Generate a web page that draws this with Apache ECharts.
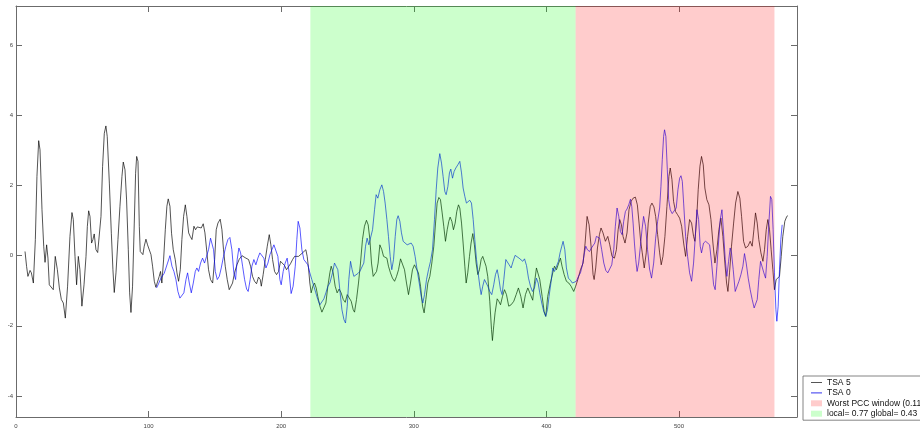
<!DOCTYPE html>
<html>
<head>
<meta charset="utf-8">
<title>TSA 5 vs TSA 0</title>
<script src="https://cdn.jsdelivr.net/npm/echarts@6/dist/echarts.min.js"></script>
<style>
  html, body { margin: 0; padding: 0; background: #fff; }
  #chart { width: 920px; height: 430px; }
</style>
</head>
<body>
<div id="chart"></div>
<script>
// TSA 5 trace (sample index, value)
const tsa5X = [6.8,8.0,9.0,10.6,11.6,13.1,14.6,15.8,17.1,18.1,19.6,20.9,21.9,23.1,24.1,25.1,26.6,28.1,29.6,31.2,32.7,34.2,35.7,37.2,38.9,40.7,42.2,43.2,44.5,45.7,47.0,48.2,49.7,51.3,52.8,53.8,54.8,55.8,57.0,58.0,59.0,60.3,61.6,62.8,64.1,65.3,66.6,67.8,68.8,70.4,71.9,73.1,74.1,75.4,76.9,78.4,79.9,80.9,82.2,83.4,84.7,85.7,86.7,87.9,89.2,90.2,91.0,92.0,93.0,93.7,94.7,95.7,96.7,98.0,99.2,100.5,101.8,103.0,104.3,105.5,106.8,108.0,109.0,110.0,111.3,112.6,113.8,114.8,116.1,117.3,118.6,
  120.1,121.4,122.6,123.9,125.1,126.4,127.7,128.9,130.2,131.4,132.7,134.2,135.4,136.7,138.2,139.7,141.2,142.5,144.0,145.2,146.7,148.3,149.8,151.0,152.3,154.0,155.3,156.5,157.8,159.3,160.8,161.8,163.3,164.8,166.6,168.4,170.4,171.9,173.4,175.4,176.9,178.4,179.9,181.4,182.9,184.2,185.0,186.4,188.0,189.5,191.0,192.2,193.5,195.0,196.5,198.0,199.5,201.0,202.5,204.0,205.5,207.0,208.6,210.1,211.6,213.1,214.6,216.1,217.6,218.6,219.6,220.6,221.6,222.6,223.9,225.1,226.4,227.6,229.2,230.7,232.2,233.7,235.2,236.7,237.7,
  239.2,240.7,242.2,243.7,245.2,246.8,248.3,249.8,251.3,252.8,254.3,255.3,256.8,258.3,259.8,261.3,262.8,264.3,265.6,266.9,268.1,269.4,270.6,271.9,273.1,274.4,275.9,277.2,278.4,279.7,280.9,282.4,283.9,285.5,287.0,288.5,290.0,291.5,293.0,294.5,296.0,297.5,299.0,300.5,302.0,303.5,305.1,306.6,307.8,309.1,310.6,312.1,313.6,315.1,316.4,317.6,318.9,320.1,321.4,322.6,323.9,325.2,326.4,327.4,328.7,329.9,331.2,332.4,333.7,334.7,336.0,337.2,338.5,339.5,340.7,342.0,343.2,344.5,345.7,347.0,348.3,349.5,350.8,352.0,353.3,354.5,355.8,
  357.3,358.6,359.3,360.3,361.3,362.9,364.1,365.4,366.9,368.4,369.9,371.6,373.4,375.4,377.2,378.9,380.7,382.4,384.2,386.0,388.0,389.7,391.0,392.5,393.8,395.0,396.8,398.3,399.5,401.0,403.0,404.8,406.1,407.6,409.3,410.6,411.8,413.4,415.1,416.9,418.6,420.6,422.1,423.7,425.7,427.7,429.2,430.7,432.2,433.7,435.2,436.0,437.2,438.5,440.0,441.2,442.7,444.5,446.3,447.8,449.5,451.3,452.8,454.1,455.3,456.6,457.8,459.3,460.8,462.3,463.9,465.4,467.1,468.6,469.9,471.1,
  472.3,473.8,475.3,476.8,478.3,479.6,481.1,482.4,483.9,485.4,486.6,487.9,489.4,490.9,492.4,493.4,494.7,495.9,497.4,498.9,500.5,502.0,503.5,505.0,506.5,508.0,509.5,511.0,512.0,513.3,514.5,515.8,517.0,518.3,519.5,521.0,522.6,524.1,525.6,527.1,528.6,530.1,531.6,533.1,534.6,535.9,536.9,538.1,539.6,541.2,542.7,544.4,545.9,547.2,548.7,550.2,552.0,553.7,555.2,556.5,557.7,559.0,560.2,561.8,563.3,564.5,565.8,567.0,568.3,569.5,570.8,572.0,573.3,574.6,575.8,577.1,578.3,579.8,581.3,582.1];
const tsa5Y = [0.12,-0.31,-0.59,-0.42,-0.49,-0.78,0.46,2.26,3.28,3.02,1.31,0.27,-0.19,0.31,-0.07,-0.83,-0.78,-0.97,-0.02,-0.4,-0.92,-1.25,-1.35,-1.78,-0.87,0.55,1.23,1.03,-0.02,-0.83,-0.02,-0.4,-1.44,-0.83,-0.02,0.83,1.28,1.12,0.36,0.46,0.62,0.17,0.09,0.12,1.12,2.54,3.49,3.70,3.40,2.07,0.64,-0.4,-1.05,-0.49,0.46,1.41,2.26,2.67,2.45,1.59,0.17,-1.06,-1.62,-0.87,0.93,2.35,2.83,2.69,0.83,0.12,0.09,0.03,0.27,0.47,0.31,0.27,0.03,-0.3,-0.73,-0.9,-0.87,-0.59,-0.45,-0.78,-0.12,0.74,1.41,1.62,1.41,0.64,0.17,
  -0.11,-0.49,-0.73,-0.4,0.46,1.12,1.45,1.12,0.65,0.55,0.46,0.84,0.74,0.82,0.86,0.79,0.91,0.65,0.08,-0.4,-0.68,-0.78,-0.11,0.74,0.93,1.04,0.74,0.17,-0.3,-0.68,-0.97,-1.02,-0.78,-0.49,-0.26,-0.1,0,0.03,-0.07,-0.11,-0.3,-0.59,-0.73,-0.8,-0.61,-0.68,-0.87,-0.54,-0.11,0.27,0.6,0.31,-0.11,-0.45,-0.54,-0.45,-0.16,-0.11,-0.28,-0.4,-0.35,-0.23,-0.11,-0.02,0.03,-0.02,0.03,0.08,0.12,0.17,-0.02,-0.35,-0.78,-1.06,-0.87,-0.78,-0.92,-1.16,-1.44,-1.61,-1.59,-1.35,-0.87,-0.49,-0.3,
  -0.49,-0.87,-1.06,-0.95,-1.06,-1.25,-1.33,-1.11,-1.11,-1.3,-1.54,-1.61,-1.25,-0.78,-0.21,0.46,0.84,1.01,0.88,0.46,-0.21,-0.59,-0.59,-0.45,-0.21,0.31,0.17,-0.02,0.03,-0.07,-0.3,-0.49,-0.64,-0.73,-0.59,-0.4,-0.09,-0.11,-0.4,-0.78,-1.11,-0.78,-0.4,-0.26,-0.26,-0.49,-0.87,-1.44,-1.63,-1.25,-0.78,-0.59,-0.21,0.27,0.93,1.5,1.66,1.6,1.22,0.84,0.41,0.74,0.98,1.1,0.98,0.74,0.93,1.26,1.45,1.36,0.93,0.36,-0.3,-0.78,-0.49,-0.02,0.36,0.63,0.31,-0.21,-0.54,-0.4,-0.11,-0.02,-0.07,-0.3,-0.6,
  -1.3,-2.1,-2.42,-2.0,-1.63,-1.23,-1.3,-1.4,-1.16,-0.97,-1.11,-1.44,-1.4,-1.3,-1.11,-0.92,-1.16,-1.49,-1.11,-0.92,-1.11,-1.27,-0.78,-0.35,-0.3,-0.68,-1.16,-1.59,-1.73,-1.16,-0.78,-0.49,-0.3,-0.4,-0.21,-0.07,-0.3,-0.54,-0.73,-0.78,-0.87,-1.02,-0.87,-0.68,-0.4,-0.21,0.36,1.12,0.88,0.27,-0.54,-0.68,-0.35,0.22,0.6,0.79,0.65,0.41,0.55,0.31,-0.02,-0.07,0.17,0.74,1.03,0.88,0.55,0.36,0.65,1.31,1.55,1.64,1.67,1.45,0.93,0.41,
  0.08,-0.35,0.08,0.93,1.4,1.5,1.39,1.12,0.6,0.08,-0.26,-0.02,0.55,1.4,2.26,2.5,2.17,1.55,1.26,1.17,1.07,0.84,0.36,-0.02,0.55,1.03,0.93,0.55,0.41,1.03,1.88,2.55,2.83,2.59,1.93,1.6,1.45,1.03,0.36,-0.21,0.17,0.74,1.07,0.55,-0.21,-0.78,-1.02,-0.49,0.27,0.93,1.5,1.83,1.64,1.12,0.41,0.22,0.27,0.41,0.27,0.74,1.22,0.93,0.46,0.08,-0.16,0.17,0.74,1.03,0.74,0.17,-0.4,-0.97,-0.68,-0.64,-0.59,-0.02,0.55,0.98,1.12,1.14];

// TSA 0 trace (sample index, value)
const tsa0X = [106.0,107.5,109.3,111.8,114.3,116.1,117.6,119.1,120.6,122.1,123.6,125.1,126.6,128.2,129.4,130.7,132.2,133.7,135.2,136.4,137.7,139.2,140.7,142.2,143.7,145.2,146.7,147.7,149.0,150.3,151.8,153.3,154.8,156.5,158.3,159.8,161.3,162.8,164.3,165.6,166.8,168.1,169.4,170.9,172.4,173.9,175.1,176.6,177.9,179.4,180.9,182.4,183.9,185.4,186.9,188.5,190.0,191.5,193.0,194.5,196.0,197.5,199.0,200.0,201.5,203.0,204.5,206.0,207.5,209.0,210.6,211.8,212.8,214.1,215.6,217.1,218.6,220.1,221.6,223.1,224.6,226.1,227.6,229.2,230.7,232.2,233.7,235.2,236.7,
  238.7,240.2,241.2,242.7,244.2,245.8,247.3,248.5,249.8,251.0,252.3,253.5,254.8,256.3,257.8,259.3,260.8,262.3,263.6,264.8,266.1,267.4,268.9,270.4,271.6,272.9,274.4,275.9,277.2,278.4,279.7,280.9,282.2,283.4,284.7,286.0,287.2,288.2,289.5,290.7,292.0,293.5,295.0,296.5,298.0,299.5,301.0,302.5,304.1,305.6,306.8,308.1,309.6,311.1,312.6,314.1,315.6,316.9,318.1,319.6,320.9,322.1,323.4,324.4,325.7,326.9,327.9,329.2,330.4,331.7,333.2,334.7,336.0,337.2,338.5,339.7,341.0,342.2,343.5,344.8,346.0,347.3,348.5,349.8,350.8,352.0,353.3,354.5,355.8,
  357.3,358.8,360.3,361.6,362.9,364.1,365.4,366.6,367.9,369.4,370.4,371.9,373.4,374.9,376.4,377.9,379.4,380.9,382.2,383.5,385.0,386.5,388.0,389.5,391.0,392.5,393.8,395.0,396.5,398.0,399.5,400.8,402.0,403.6,404.8,406.1,407.6,409.1,410.3,411.6,412.6,413.9,415.1,416.6,418.1,419.6,421.1,422.6,424.2,425.7,427.2,428.7,429.7,430.9,432.5,434.0,435.2,436.5,437.7,439.0,440.2,441.7,443.3,444.8,446.3,447.8,449.3,450.8,452.0,453.3,454.6,455.8,457.1,458.3,459.6,460.8,462.1,463.4,464.4,465.4,466.4,467.4,468.4,469.6,470.9,472.1,
  473.3,474.8,476.3,477.8,479.3,480.9,482.4,483.9,485.4,486.4,487.4,488.4,489.1,490.1,491.2,492.2,493.4,494.9,496.4,497.9,499.2,500.5,501.5,502.5,503.5,505.0,506.5,508.0,509.5,511.0,512.3,513.5,514.8,516.0,517.0,518.5,520.1,521.6,523.1,524.6,526.1,527.3,528.6,529.8,531.1,532.4,533.6,534.9,536.1,537.4,538.6,539.6,540.9,542.4,543.7,545.2,546.7,548.2,549.4,550.7,552.2,553.7,555.2,556.7,557.7,559.0,560.2,561.5,562.8,564.0,565.3,566.5,567.8,569.0,570.0,571.0,572.0,573.1,573.8,574.8,575.8,576.8,577.8];
const tsa0Y = [-0.92,-0.8,-0.64,-0.5,-0.21,0.0,-0.3,-0.45,-0.68,-1.02,-1.21,-1.23,-1.06,-0.68,-0.49,-0.78,-1.06,-0.78,-0.45,-0.35,-0.45,-0.21,-0.07,-0.21,-0.02,0.17,0.5,0.55,0.17,-0.45,-0.68,-0.59,-0.35,-0.02,0.27,0.46,0.52,0.17,-0.49,-0.68,-0.11,0.22,0.08,-0.3,-0.68,-0.95,-1.02,-0.68,-0.3,-0.11,-0.26,-0.07,0.08,0.12,-0.07,-0.35,-0.21,0.03,0.17,0.31,0.34,-0.02,-0.68,-0.83,-0.45,-0.21,-0.07,-0.49,-1.08,-0.87,-0.3,0.46,0.98,0.79,0.17,-0.11,-0.16,-0.26,-0.49,-0.68,-0.87,-1.06,-1.25,-1.4,-1.37,-1.23,-1.06,-0.87,-0.78,
  -0.49,-0.21,-0.16,-0.4,-0.97,-1.54,-1.82,-1.92,-1.44,-0.68,-0.16,-0.4,-0.59,-0.64,-0.51,-0.45,-0.43,-0.21,0.27,0.5,0.31,0.31,0.74,1.31,1.74,1.64,1.88,2.02,1.83,1.5,1.03,0.55,-0.02,-0.4,-0.11,0.55,1.03,1.14,0.98,0.65,0.41,0.36,0.31,0.27,0.36,0.27,-0.02,-0.4,-0.78,-1.16,-1.35,-1.11,-0.68,-0.4,-0.16,0.17,1.03,1.88,2.5,2.91,2.64,2.26,1.83,1.74,1.97,2.36,2.47,2.21,2.4,2.5,2.59,2.69,2.36,1.93,1.69,1.5,1.45,1.58,1.5,1.03,0.46,-0.11,-0.49,-0.87,-1.11,-0.87,-0.68,-0.73,-0.87,
  -1.02,-1.11,-0.83,-0.54,-0.4,-0.64,-0.97,-1.11,-0.68,-0.11,-0.07,-0.26,-0.35,-0.16,0.01,-0.02,-0.07,-0.11,-0.16,-0.09,-0.28,-0.64,-0.87,-1.02,-0.92,-0.64,-0.78,-1.06,-1.35,-1.59,-1.73,-1.54,-1.16,-0.73,-0.35,-0.45,-0.49,-0.16,0.08,0.27,0.41,0.17,-0.35,-0.64,-0.7,-0.78,-0.83,-0.73,-0.59,-0.49,-0.26,0.08,0.27,0.17,0.12,0.22,0.27,0.36,0.55,0.6,0.5,0.17,-0.21,-0.42,-0.49,-0.51,-0.26,0.17,0.84,1.36,1.12,0.69,0.6,0.98,1.26,1.33,1.45,1.61,1.4,0.93,0.36,-0.11,-0.45,-0.21,0.27,0.74,
  1.12,0.84,0.17,-0.38,-0.64,-0.21,0.5,0.98,1.36,1.98,2.74,3.4,3.59,3.4,2.45,1.6,1.31,1.2,1.2,1.36,1.88,2.21,2.28,2.12,1.5,0.55,-0.02,-0.49,-0.73,-0.21,0.55,1.31,1.03,0.27,0.08,0.36,0.41,0.41,0.31,-0.21,-0.83,-0.97,-0.3,0.36,1.03,1.31,0.65,-0.11,-0.59,-0.16,0.22,0.08,-0.4,-1.02,-1.02,-0.73,-0.54,-0.3,0.06,-0.21,-0.64,-0.97,-1.25,-1.49,-1.54,-1.25,-0.68,-0.16,-0.16,-0.49,-0.64,-0.02,0.93,1.69,1.6,0.74,-0.49,-1.54,-1.87,-1.44,-0.4,0.46,0.88];

// Highlighted windows [start, end] in sample index
const worstWindow = [422, 572];
const localWindow = [222, 422];

// Axis ranges and ticks
const xRange = [0, 589];
const xStep = 100;
const yRange = [-4.6, 7.12];
const yTicks = [-4, -2, 0, 2, 4, 6];

const legendNames = ['TSA 5', 'TSA 0', 'Worst PCC window (0.11)', 'local= 0.77 global= 0.43'];

const zip = (xs, ys) => xs.map((x, i) => [x, ys[i]]);

const axisGray = '#6b6b6b';
const fontFamily = '"Liberation Sans", Arial, Helvetica, sans-serif';
// thin bar used as a line sample in the legend
const lineIcon = 'path://M0,0H11V1H0Z';

function windowRect(params, api) {
  const a = api.coord([api.value(0), 0]);
  const b = api.coord([api.value(1), 0]);
  const cs = params.coordSys;
  return {
    type: 'rect',
    shape: { x: a[0], y: cs.y, width: b[0] - a[0], height: cs.height },
    style: { fill: api.visual('color') }
  };
}

function xAxisDef(pos, showLabels) {
  return {
    type: 'value', position: pos, min: xRange[0], max: xRange[1], interval: xStep,
    axisLine: { show: true, onZero: false, lineStyle: { color: axisGray, width: 1 } },
    axisTick: { show: true, inside: true, length: 6, lineStyle: { color: axisGray, width: 1 } },
    axisLabel: { show: showLabels, fontSize: 6, color: '#444', margin: 6, fontFamily, showMaxLabel: false },
    splitLine: { show: false }
  };
}
function yAxisDef(pos, showLabels) {
  return {
    type: 'value', position: pos, min: yRange[0], max: yRange[1],
    axisLine: { show: true, onZero: false, lineStyle: { color: axisGray, width: 1 } },
    axisTick: { show: true, inside: true, length: 6, customValues: yTicks, lineStyle: { color: axisGray, width: 1 } },
    axisLabel: { show: showLabels, fontSize: 6, color: '#444', margin: 3, customValues: yTicks, fontFamily },
    splitLine: { show: false }
  };
}

const chart = echarts.init(document.getElementById('chart'), null, { renderer: 'canvas' });
chart.setOption({
  animation: false,
  backgroundColor: '#ffffff',
  grid: { left: 16, right: 123, top: 6, bottom: 13, containLabel: false, outerBoundsMode: 'none' },
  xAxis: [xAxisDef('bottom', true), xAxisDef('top', false)],
  yAxis: [yAxisDef('left', true), yAxisDef('right', false)],
  legend: {
    orient: 'vertical', left: 803, top: 376,
    padding: [1.5, 4, 1.5, 8], itemGap: 0.4,
    itemWidth: 11, itemHeight: 6, itemTextGap: 2,
    backgroundColor: '#ffffff', borderColor: '#666', borderWidth: 0.8, borderRadius: 0,
    textStyle: { fontSize: 8.5, color: '#111', fontFamily, lineHeight: 10 },
    selectedMode: false,
    data: [
      { name: legendNames[0], icon: lineIcon, itemStyle: { color: '#555555' } },
      { name: legendNames[1], icon: lineIcon, itemStyle: { color: '#3333ee' } },
      { name: legendNames[2], icon: 'rect' },
      { name: legendNames[3], icon: 'rect' }
    ]
  },
  series: [
    {
      name: legendNames[0], type: 'line', data: zip(tsa5X, tsa5Y),
      showSymbol: false, symbol: 'none', z: 2, silent: true,
      lineStyle: { color: '#000000', width: 0.9, opacity: 0.75 },
      itemStyle: { color: '#000000' }
    },
    {
      name: legendNames[1], type: 'line', data: zip(tsa0X, tsa0Y),
      showSymbol: false, symbol: 'none', z: 3, silent: true,
      lineStyle: { color: '#0000ff', width: 0.9, opacity: 0.72 },
      itemStyle: { color: '#0000ff' }
    },
    {
      name: legendNames[2], type: 'custom', z: 5, silent: true,
      data: [[worstWindow[0], worstWindow[1], 0]], encode: { x: [0, 1], y: 2 },
      itemStyle: { color: 'rgba(255,0,0,0.2)' },
      renderItem: windowRect
    },
    {
      name: legendNames[3], type: 'custom', z: 5, silent: true,
      data: [[localWindow[0], localWindow[1], 0]], encode: { x: [0, 1], y: 2 },
      itemStyle: { color: 'rgba(0,255,0,0.2)' },
      renderItem: windowRect
    }
  ]
});
</script>
</body>
</html>
